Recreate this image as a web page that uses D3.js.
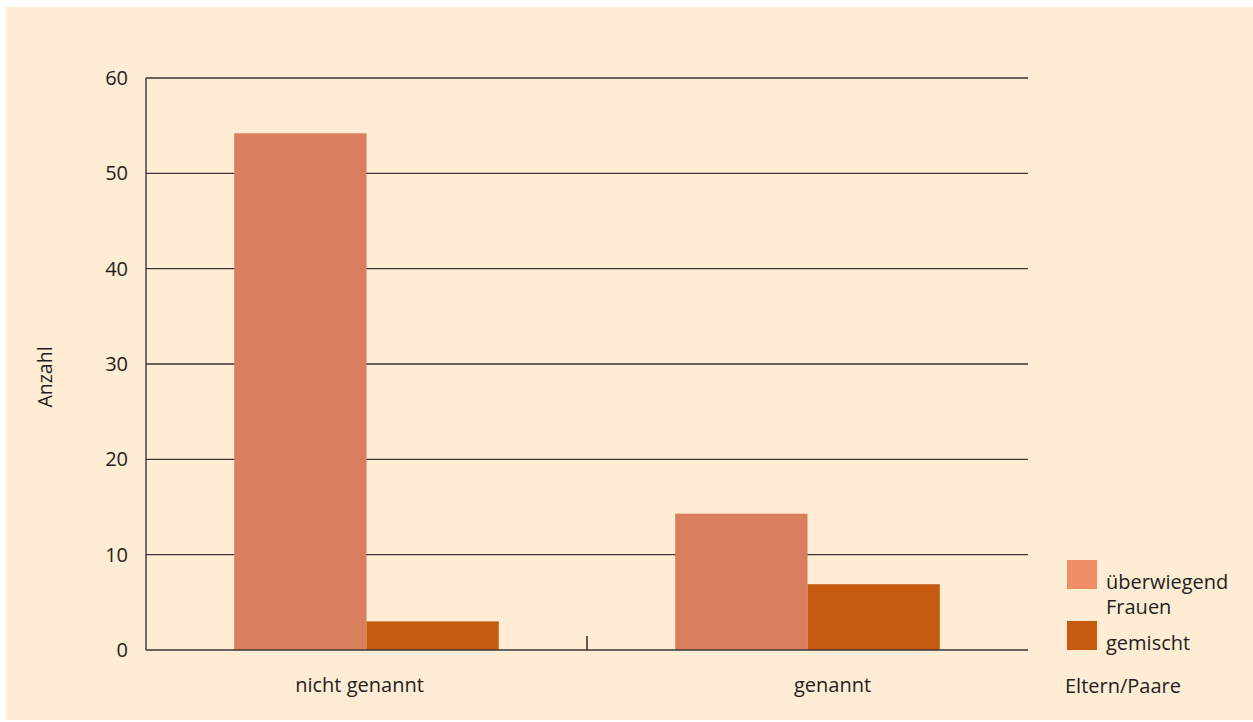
<!DOCTYPE html>
<html><head><meta charset="utf-8">
<script src="https://cdn.jsdelivr.net/npm/d3@7"></script>
<style>body{margin:0;background:#fff}svg{display:block}text{font-family:"Open Sans",sans-serif;fill:#231f20}</style>
</head><body><svg id="c" width="1253" height="722"></svg>
<script>
const categories = ["nicht genannt", "genannt"];
const seriesNames = ["überwiegend Frauen", "gemischt"];
const valuesFrauen = [54.2, 14.3];
const valuesGemischt = [3.0, 6.9];
const yTicks = [0, 10, 20, 30, 40, 50, 60];
const barColors = ["#d97f5d", "#c55a10"];
const legendColors = ["#f08c66", "#c55a10"];

const svg = d3.select("#c");
svg.append("rect").attr("x",6).attr("y",7).attr("width",1247).attr("height",713).attr("fill","#feecd4");

const m = {l:146, r:1028, t:78, b:650};
const x = d3.scaleBand().domain(categories).range([m.l, m.r]).paddingInner(0).paddingOuter(0);
const groupX = d3.scaleBand().domain(categories).range([m.l, m.r]).paddingInner(0.4).paddingOuter(0.2);
const xs = d3.scaleBand().domain(seriesNames).range([0, groupX.bandwidth()]);
const y = d3.scaleLinear().domain([0, 60]).range([m.b, m.t]);

// gridlines
svg.append("g").selectAll("line").data(yTicks.filter(d=>d>0)).join("line")
  .attr("x1", m.l).attr("x2", m.r).attr("y1", d=>y(d)).attr("y2", d=>y(d))
  .attr("stroke","#3a3636").attr("stroke-width",1.4);

// bars
const rows = categories.map((c,i)=>({cat:c, vals:[valuesFrauen[i], valuesGemischt[i]]}));
const g = svg.append("g");
rows.forEach(r=>{
  r.vals.forEach((v,j)=>{
    g.append("rect").attr("x", groupX(r.cat)+xs(seriesNames[j])).attr("width", xs.bandwidth())
      .attr("y", y(v)).attr("height", y(0)-y(v)).attr("fill", barColors[j]);
  });
});

// axes lines
svg.append("line").attr("x1",m.l).attr("x2",m.l).attr("y1",m.t).attr("y2",m.b).attr("stroke","#3a3636").attr("stroke-width",1.4);
svg.append("line").attr("x1",m.l).attr("x2",m.r).attr("y1",m.b).attr("y2",m.b).attr("stroke","#3a3636").attr("stroke-width",1.6);
// middle tick
svg.append("line").attr("x1",x("genannt")).attr("x2",x("genannt")).attr("y1",m.b-14).attr("y2",m.b).attr("stroke","#3a3636").attr("stroke-width",1.6);

// y tick labels
svg.append("g").selectAll("text").data(yTicks).join("text")
  .attr("x",128).attr("y",d=>y(d)).attr("dy","0.35em").attr("text-anchor","end")
  .attr("font-size",20).text(d=>d);

// x labels
const labelShift = [-7, 25];
svg.append("g").selectAll("text").data(categories).join("text")
  .attr("x",(d,i)=>x(d)+x.bandwidth()/2+labelShift[i]).attr("y",692).attr("text-anchor","middle")
  .attr("font-size",20).text(d=>d);

// y title
svg.append("text").attr("transform","translate(52,377) rotate(-90)").attr("text-anchor","middle").attr("font-size",19.5).text("Anzahl");

// legend
const lg = svg.append("g");
const legendY = [560, 621];
seriesNames.forEach((s,i)=>{
  lg.append("rect").attr("x",1067).attr("y",legendY[i]).attr("width",30).attr("height",29).attr("fill",legendColors[i]);
});
lg.append("text").attr("x",1106).attr("y",589).attr("font-size",20).text("überwiegend");
lg.append("text").attr("x",1106).attr("y",614).attr("font-size",20).text("Frauen");
lg.append("text").attr("x",1106).attr("y",650).attr("font-size",20).text("gemischt");
lg.append("text").attr("x",1065).attr("y",693).attr("font-size",20).text("Eltern/Paare");
</script></body></html>
